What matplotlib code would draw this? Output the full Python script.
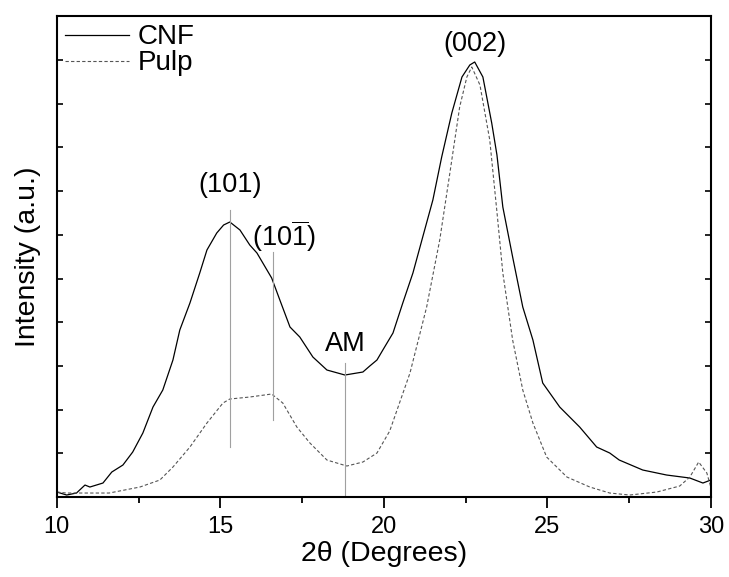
import numpy as np
import matplotlib
matplotlib.use("Agg")
import matplotlib.pyplot as plt

plt.rcParams['font.family'] = ['Liberation Sans', 'DejaVu Sans']
plt.rcParams['mathtext.fontset'] = 'custom'
plt.rcParams['mathtext.rm'] = 'Liberation Sans'
plt.rcParams['mathtext.it'] = 'Liberation Sans'

# XRD patterns (intensity in arbitrary units)
cnf_x = [10.0, 10.3, 10.6, 10.86, 11.01, 11.41, 11.68, 12.02, 12.32, 12.63, 12.94,
         13.24, 13.55, 13.76, 14.07, 14.37, 14.59, 14.89, 15.1, 15.29, 15.6, 15.9,
         16.12, 16.57, 16.82, 17.13, 17.43, 17.83, 18.26, 18.81, 19.36, 19.57, 19.79,
         19.97, 20.28, 20.58, 20.89, 21.19, 21.5, 21.77, 22.08, 22.39, 22.63, 22.78,
         23.03, 23.3, 23.46, 23.64, 23.94, 24.25, 24.56, 24.86, 25.38, 25.99, 26.51,
         26.91, 27.2, 27.92, 28.65, 29.36, 29.76, 30.0]
cnf_y = [5, 2, 4, 12, 10, 14, 25, 32, 45, 64, 90,
         107, 137, 167, 194, 224, 247, 264, 272, 275, 267, 252,
         244, 219, 197, 170, 160, 140, 127, 122, 125, 131, 137,
         147, 164, 194, 224, 260, 297, 340, 384, 420, 432, 435,
         420, 374, 342, 290, 240, 190, 157, 114, 90, 70, 50,
         44, 37, 27, 22, 19, 14, 17]

pulp_x = [10.0, 10.3, 11.0, 11.6, 12.54, 13.15, 13.55, 14.07, 14.59, 15.08, 15.29,
          15.9, 16.57, 16.91, 17.34, 17.74, 18.26, 18.87, 19.36, 19.79, 20.18, 20.8,
          21.31, 21.71, 22.02, 22.32, 22.54, 22.69, 22.94, 23.24, 23.46, 23.64, 23.94,
          24.25, 24.56, 24.98, 25.6, 26.3, 26.91, 27.52, 28.35, 29.05, 29.36, 29.63,
          29.88, 30.0]
pulp_y = [5, 4, 4, 4, 10, 17, 30, 50, 74, 94, 98,
          100, 103, 94, 70, 54, 37, 31, 35, 44, 66, 124,
          190, 257, 324, 390, 420, 430, 412, 357, 285, 224, 157,
          107, 74, 40, 20, 10, 4, 2, 5, 11, 20, 35,
          24, 10]

# peak markers: position, line bottom, line top
peak_x = [15.29, 16.6, 18.81]
peak_lo = [50, 77, 0]
peak_hi = [287, 245, 134]

labels = ['(101)', '(10$\\overline{1}$)', 'AM', '(002)']
label_x = [15.3, 16.93, 18.81, 22.8]
label_y = [312, 261, 153, 453]

fig = plt.figure(figsize=(7.29, 5.77), dpi=100)
ax = fig.add_axes([0.078, 0.1386, 0.897, 0.8337])

ax.plot(cnf_x, cnf_y, color='black', lw=0.9, label='CNF')
ax.plot(pulp_x, pulp_y, color='#555555', lw=0.8, ls=(0, (3, 2)), label='Pulp')

for px, lo, hi in zip(peak_x, peak_lo, peak_hi):
    ax.plot([px, px], [lo, hi], color='#a0a0a0', lw=0.8)

for t, lx, ly in zip(labels, label_x, label_y):
    ax.text(lx, ly, t, ha='center', va='center', fontsize=19.5)

ax.set_xlim(10, 30)
ax.set_ylim(0, 481)
ax.set_xticks([10, 15, 20, 25, 30])
ax.set_xticks([12.5, 17.5, 22.5, 27.5], minor=True)
ax.set_yticks(np.arange(0, 481, 43.7))
ax.set_yticklabels([])
ax.tick_params(axis='x', which='major', direction='out', length=8, width=1.3,
               labelsize=17, top=False, pad=6)
ax.tick_params(axis='x', which='minor', direction='out', length=4, width=1.3, top=False)
ax.tick_params(axis='y', direction='in', length=4, width=1.2, left=True, right=True)
for s in ax.spines.values():
    s.set_linewidth(1.5)

ax.set_xlabel('2θ (Degrees)', fontsize=20.5, labelpad=2)
ax.set_ylabel('Intensity (a.u.)', fontsize=20.5, labelpad=8)

ax.legend(loc='upper left', frameon=False, fontsize=20, handlelength=2.3,
          handletextpad=0.3, borderaxespad=0.1, borderpad=0.2, labelspacing=0.0)

fig.savefig('out.png', dpi=100)
